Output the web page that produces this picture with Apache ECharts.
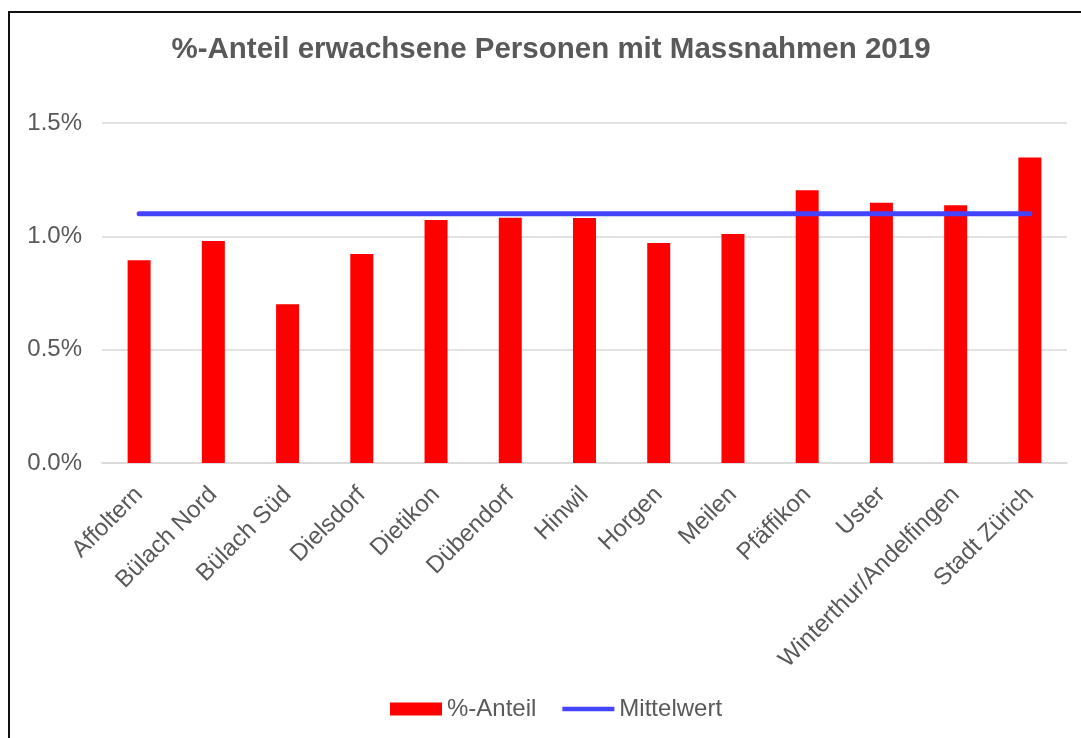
<!DOCTYPE html>
<html>
<head>
<meta charset="utf-8">
<script src="https://cdn.jsdelivr.net/npm/echarts@6/dist/echarts.min.js"></script>
<style>
html,body{margin:0;padding:0;background:#fff;}
#chart{width:1081px;height:738px;}
</style>
</head>
<body>
<div id="chart"></div>
<script>
const categories = ["Affoltern","Bülach Nord","Bülach Süd","Dielsdorf","Dietikon","Dübendorf","Hinwil","Horgen","Meilen","Pfäffikon","Uster","Winterthur/Andelfingen","Stadt Zürich"];
const anteilValues = [0.894, 0.979, 0.700, 0.922, 1.072, 1.082, 1.081, 0.971, 1.010, 1.203, 1.148, 1.137, 1.348];
const mittelwertValues = [1.10, 1.10, 1.10, 1.10, 1.10, 1.10, 1.10, 1.10, 1.10, 1.10, 1.10, 1.10, 1.10];
const yTicks = [0, 0.5, 1.0, 1.5];

const FONT = '"Liberation Sans", Arial, sans-serif';
const chart = echarts.init(document.getElementById('chart'), null, {renderer: 'canvas'});
chart.setOption({
  backgroundColor: '#fff',
  animation: false,
  graphic: [{
    type: 'rect',
    shape: {x: 9, y: 12, width: 1200, height: 900},
    style: {fill: 'none', stroke: '#111', lineWidth: 2},
    z: 100
  }],
  title: {
    text: '%-Anteil erwachsene Personen mit Massnahmen 2019',
    left: 546, top: 30, textAlign: 'center',
    textStyle: {fontFamily: FONT, fontSize: 29.5, fontWeight: 'bold', color: '#595959'}
  },
  grid: {left: 102, right: 14, top: 123, bottom: 275, containLabel: false},
  legend: {
    data: [
      {name: '%-Anteil', icon: 'rect'},
      {name: 'Mittelwert', icon: 'path://M0,0 L56,0 L56,5 L0,5 Z'}
    ],
    left: 385, top: 692,
    itemWidth: 52, itemHeight: 13, itemGap: 26,
    textStyle: {fontFamily: FONT, fontSize: 24, color: '#595959'}
  },
  xAxis: {
    type: 'category',
    data: categories,
    axisLine: {lineStyle: {color: '#D9D9D9', width: 1.5}},
    axisTick: {show: false},
    axisLabel: {rotate: 45, interval: 0, fontFamily: FONT, fontSize: 24, color: '#595959', margin: 28}
  },
  yAxis: {
    type: 'value',
    min: yTicks[0], max: yTicks[yTicks.length - 1], interval: 0.5,
    axisLine: {show: false},
    axisTick: {show: false},
    splitLine: {lineStyle: {color: '#D9D9D9', width: 1.5}},
    axisLabel: {fontFamily: FONT, fontSize: 24, color: '#595959', margin: 20,
      formatter: v => v.toFixed(1) + '%'}
  },
  series: [
    {
      name: '%-Anteil', type: 'bar', data: anteilValues, barWidth: 23,
      itemStyle: {color: '#FF0000'}
    },
    {
      name: 'Mittelwert', type: 'line', data: mittelwertValues, symbol: 'none',
      lineStyle: {color: '#4444FF', width: 5, cap: 'round'},
      itemStyle: {color: '#4444FF'}, z: 5
    }
  ]
});
</script>
</body>
</html>
